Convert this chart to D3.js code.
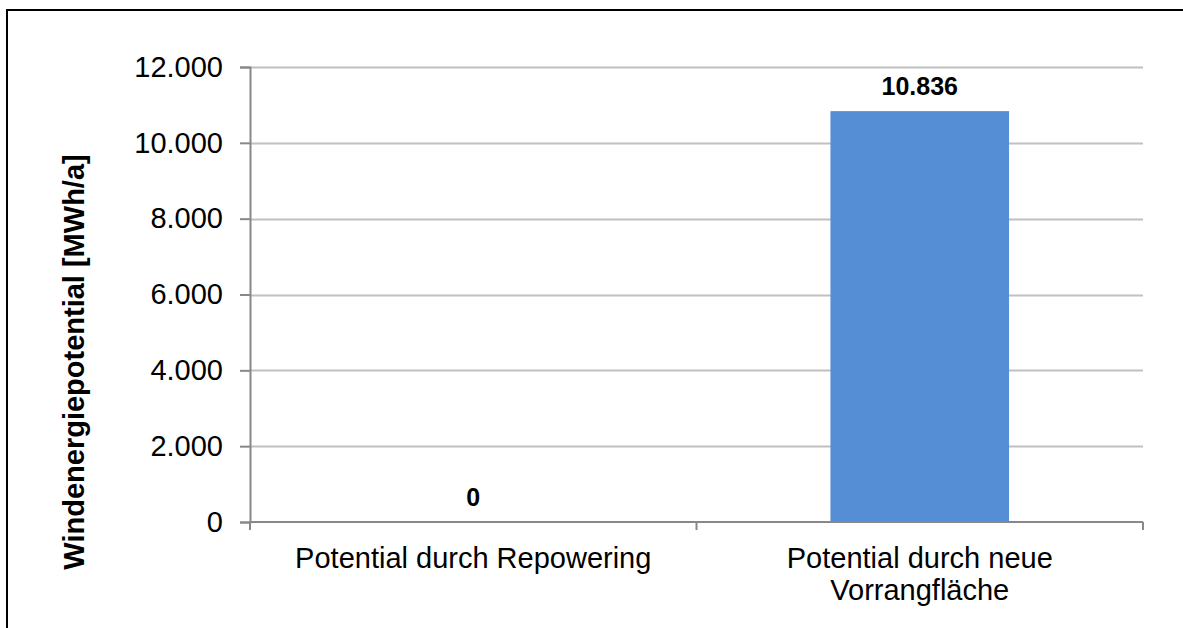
<!DOCTYPE html>
<html>
<head>
<meta charset="utf-8">
<script src="https://cdn.jsdelivr.net/npm/d3@7"></script>
<style>
  html, body { margin: 0; padding: 0; background: #fff; }
  svg { display: block; font-family: "Liberation Sans", Arial, sans-serif; }
</style>
</head>
<body>
<svg id="chart" width="1183" height="628"></svg>
<script>
// Wind energy potential by source
const categories = [["Potential durch Repowering"], ["Potential durch neue", "Vorrangfläche"]];
const values = [0, 10836];
const valueLabels = ["0", "10.836"];
const yTicks = [0, 2000, 4000, 6000, 8000, 10000, 12000];
const yTitle = "Windenergiepotential [MWh/a]";

const svg = d3.select("#chart");
const W = 1183, H = 628;

// outer frame (right/bottom edges fall outside the canvas)
svg.append("rect")
  .attr("x", 7).attr("y", 10)
  .attr("width", W + 10).attr("height", H + 10)
  .attr("fill", "#fff").attr("stroke", "#000").attr("stroke-width", 2);

const m = { left: 250, right: 1143, top: 67, bottom: 522 };

const x = d3.scaleBand()
  .domain(d3.range(categories.length))
  .range([m.left, m.right])
  .paddingInner(0.6).paddingOuter(0.3);

const y = d3.scaleLinear().domain([0, 12000]).range([m.bottom, m.top]);

const fmt = d => d3.format(",")(d).replace(/,/g, ".");

// gridlines
svg.append("g")
  .selectAll("line")
  .data(yTicks.filter(t => t > 0))
  .join("line")
  .attr("x1", m.left).attr("x2", m.right)
  .attr("y1", d => Math.round(y(d)) + 0.5).attr("y2", d => Math.round(y(d)) + 0.5)
  .attr("stroke", "#c0c0c0").attr("stroke-width", 2);

// y axis
const yAxis = svg.append("g")
  .attr("transform", `translate(${m.left},0)`)
  .call(d3.axisLeft(y).tickValues(yTicks).tickFormat(fmt).tickSize(10).tickPadding(17));
yAxis.select(".domain").attr("stroke", "#888").attr("stroke-width", 2);
yAxis.selectAll(".tick line").attr("stroke", "#888").attr("stroke-width", 2);
yAxis.selectAll(".tick text")
  .attr("font-size", 29).attr("fill", "#000")
  .attr("font-family", "Liberation Sans, Arial, sans-serif");

// bars
svg.append("g")
  .selectAll("rect")
  .data(values)
  .join("rect")
  .attr("x", (d, i) => x(i))
  .attr("width", x.bandwidth())
  .attr("y", d => y(d))
  .attr("height", d => y(0) - y(d))
  .attr("fill", "#558ed5");

// x axis baseline and ticks
const xBoundaries = [m.left, (m.left + m.right) / 2, m.right];
svg.append("line")
  .attr("x1", m.left).attr("x2", m.right)
  .attr("y1", m.bottom).attr("y2", m.bottom)
  .attr("stroke", "#888").attr("stroke-width", 2);
svg.append("g").selectAll("line")
  .data(xBoundaries)
  .join("line")
  .attr("x1", d => d).attr("x2", d => d)
  .attr("y1", m.bottom).attr("y2", m.bottom + 8)
  .attr("stroke", "#888").attr("stroke-width", 2);

// category labels
const cat = svg.append("g");
categories.forEach((lines, i) => {
  const cx = x(i) + x.bandwidth() / 2;
  lines.forEach((ln, j) => {
    cat.append("text")
      .attr("x", cx).attr("y", 568 + j * 32)
      .attr("text-anchor", "middle")
      .attr("font-size", 29).attr("fill", "#000")
      .text(ln);
  });
});

// value labels
svg.append("g")
  .selectAll("text")
  .data(values)
  .join("text")
  .attr("x", (d, i) => x(i) + x.bandwidth() / 2)
  .attr("y", d => y(d) - 16)
  .attr("text-anchor", "middle")
  .attr("font-size", 25).attr("font-weight", "bold").attr("fill", "#000")
  .text((d, i) => valueLabels[i]);

// y axis title
svg.append("text")
  .attr("transform", `translate(84,362) rotate(-90)`)
  .attr("text-anchor", "middle")
  .attr("font-size", 29).attr("font-weight", "bold").attr("fill", "#000")
  .text(yTitle);
</script>
</body>
</html>
